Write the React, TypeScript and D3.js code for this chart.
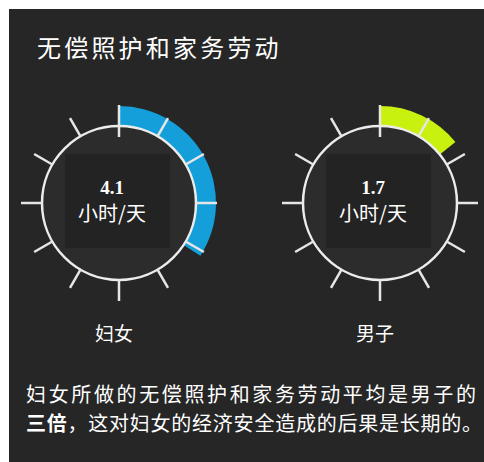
import React from "react";
import * as d3 from "d3";

const title = "无偿照护和家务劳动";
const categories = ["妇女", "男子"];
const values = [4.1, 1.7];
const unit = "小时/天";
const colors = ["#159fda", "#c8f10f"];
const maxHours = 12;
const tickCount = 12;
const noteLines = [
  { bold: "", rest: "妇女所做的无偿照护和家务劳动平均是男子的" },
  { bold: "三倍", rest: "，这对妇女的经济安全造成的后果是长期的。" },
];

const W = 484;
const H = 462;
const cx = [119, 380];
const cy = 203;
const R = 77;
const ROut = 97;

export default function App() {
  const angle = d3.scaleLinear().domain([0, maxHours]).range([0, 2 * Math.PI]);
  const ticks = d3.range(tickCount).map((i) => (i * maxHours) / tickCount);
  const arc = d3.arc<any>();
  return (
    <svg
      width={W}
      height={H}
      style={{ position: "absolute", left: 0, top: 0, display: "block" }}
    >
      <rect x={0} y={0} width={W} height={H} fill="#ffffff" />
      <rect x={9} y={9} width={W - 9} height={H - 9} fill="#262626" />
      <text
        x={37}
        y={57}
        fill="#ffffff"
        fontSize={24}
        letterSpacing={3.2}
        fontFamily="'Noto Sans CJK SC', sans-serif"
      >
        {title}
      </text>
      {categories.map((c, i) => {
        const x0 = cx[i];
        const d = arc({
          innerRadius: R,
          outerRadius: ROut,
          startAngle: 0,
          endAngle: angle(values[i]),
        }) as string;
        return (
          <g key={c}>
            <circle cx={x0} cy={cy} r={R} fill="#2c2c2c" />
            <rect x={x0 - 54} y={cy - 49} width={105} height={94} fill="#232323" />
            <path d={d} transform={`translate(${x0},${cy})`} fill={colors[i]} />
            <circle cx={x0} cy={cy} r={R} fill="none" stroke="#ececec" strokeWidth={2.5} />
            {ticks.map((t, j) => {
              const a = angle(t);
              const r0 = j === 0 ? 66 : R;
              return (
                <line
                  key={j}
                  x1={x0 + r0 * Math.sin(a)}
                  y1={cy - r0 * Math.cos(a)}
                  x2={x0 + (ROut + 1) * Math.sin(a)}
                  y2={cy - (ROut + 1) * Math.cos(a)}
                  stroke="#e6e6e6"
                  strokeWidth={2.5}
                />
              );
            })}
            <text
              x={x0 - 7}
              y={194}
              textAnchor="middle"
              fill="#ffffff"
              fontSize={19}
              fontWeight="bold"
              fontFamily="'Liberation Serif', 'Times New Roman', serif"
            >
              {values[i].toFixed(1)}
            </text>
            <text
              x={x0 - 7}
              y={221}
              textAnchor="middle"
              fill="#ffffff"
              fontSize={20}
              fontFamily="'Noto Sans CJK SC', sans-serif"
            >
              {unit}
            </text>
            <text
              x={x0 - 5}
              y={341}
              textAnchor="middle"
              fill="#ffffff"
              fontSize={19}
              fontFamily="'Noto Sans CJK SC', sans-serif"
            >
              {c}
            </text>
          </g>
        );
      })}
      {noteLines.map((l, i) => (
        <text
          key={i}
          x={26}
          y={402 + i * 29}
          fill="#ffffff"
          fontSize={20}
          textLength={i === 0 ? 450 : 456}
          lengthAdjust="spacing"
          fontFamily="'Noto Sans CJK SC', sans-serif"
        >
          {l.bold ? <tspan fontWeight="bold">{l.bold}</tspan> : null}
          {l.rest}
        </text>
      ))}
    </svg>
  );
}
